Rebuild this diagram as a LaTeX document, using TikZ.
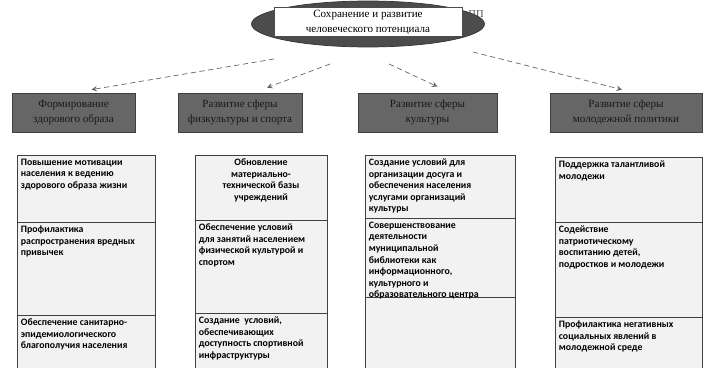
\documentclass[tikz,border=0pt]{standalone}
\usepackage{fontspec}
\setmainfont{Liberation Serif}
\newfontfamily\cellfont{Carlito}
\usetikzlibrary{shapes, arrows, positioning, calc}

\begin{document}
\begin{tikzpicture}[
    x=0.02cm, y=-0.02cm,
    goal/.style={ellipse, draw=black!80, fill=black!70, minimum width=4.66cm, minimum height=0.92cm},
    goaltext/.style={rectangle, draw=black!70, fill=white, minimum width=3.76cm, minimum height=0.58cm, inner ysep=1.5pt, align=center, font=\fontsize{6.3}{8.2}\selectfont},
    branch/.style={rectangle, draw=black!75, fill=black!60, minimum height=0.78cm, align=center, text=black!90, font=\fontsize{6.3}{8.5}\selectfont},
    column/.style={draw=black!75, fill=black!5},
    divider/.style={draw=black!75},
    item/.style={anchor=north west, align=left, inner sep=2pt, font=\cellfont\bfseries\fontsize{5.6}{6.6}\selectfont},
    arrow/.style={->, >=stealth, densely dashed, black!60}
]

\useasboundingbox (0,0) rectangle (710,368);

% Goal
\node[goal] (goal) at (368,24) {};
\node[goaltext] (goaltxt) at ([yshift=1]goal.center) {Сохранение и развитие\\человеческого потенциала};
\node[font=\fontsize{6}{7}\selectfont, text=black!70] (mark) at (476,14) {ПП};

% Directions
\node[branch, minimum width=2.46cm] (h1) at (73.5,112.5) {Формирование\\здорового образа};
\node[branch, minimum width=2.48cm] (h2) at (240,112.5) {Развитие сферы\\физкультуры и спорта};
\node[branch, minimum width=2.78cm] (h3) at (427.5,112.5) {Развитие сферы\\культуры};
\node[branch, minimum width=3.04cm] (h4) at (626,112.5) {Развитие сферы\\молодежной политики};

% Arrows from the goal
\coordinate (s1) at (274,59);
\coordinate (s2) at (330,64);
\coordinate (s3) at (389,64);
\coordinate (s4) at (473,52);
\draw[arrow] (s1) -- ([shift={(18,-3)}]h1.north);
\draw[arrow] (s2) -- ([shift={(27,-5)}]h2.north);
\draw[arrow] (s3) -- ([shift={(10,-6)}]h3.north);
\draw[arrow] (s4) -- ([shift={(-4,-3)}]h4.north);

% Columns
\draw[column] (17,155) rectangle (155,372);
\draw[divider] (17,222) -- (155,222);
\draw[divider] (17,315) -- (155,315);
\draw[column] (195,155) rectangle (327,372);
\draw[divider] (195,220) -- (327,220);
\draw[divider] (195,313) -- (327,313);
\draw[column] (365,155) rectangle (515,372);
\draw[divider] (365,218) -- (515,218);
\draw[divider] (365,297) -- (515,297);
\draw[column] (555,157) rectangle (702,372);
\draw[divider] (555,222) -- (702,222);
\draw[divider] (555,317) -- (702,317);

% Tasks: health
\node[item] (t11) at (17,155) {Повышение мотивации\\населения к ведению\\здорового образа жизни};
\node[item] (t12) at (17,222) {Профилактика\\распространения вредных\\привычек};
\node[item] (t13) at (17,315) {Обеспечение санитарно-\\эпидемиологического\\благополучия населения};

% Tasks: sport
\node[item, anchor=north, align=center] (t21) at (261,155) {Обновление\\материально-\\технической базы\\учреждений};
\node[item] (t22) at (195,220) {Обеспечение условий\\для занятий населением\\физической культурой и\\спортом};
\node[item] (t23) at (195,313) {Создание\ \ условий,\\обеспечивающих\\доступность спортивной\\инфраструктуры};

% Tasks: culture
\node[item] (t31) at (365,155) {Создание условий для\\организации досуга и\\обеспечения населения\\услугами организаций\\культуры};
\node[item] (t32) at (365,218) {Совершенствование\\деятельности\\муниципальной\\библиотеки как\\информационного,\\культурного и\\образовательного центра};

% Tasks: youth
\node[item] (t41) at (555,157) {Поддержка талантливой\\молодежи};
\node[item] (t42) at (555,222) {Содействие\\патриотическому\\воспитанию детей,\\подростков и молодежи};
\node[item] (t43) at (555,317) {Профилактика негативных\\социальных явлений в\\молодежной среде};

\end{tikzpicture}
\end{document}
